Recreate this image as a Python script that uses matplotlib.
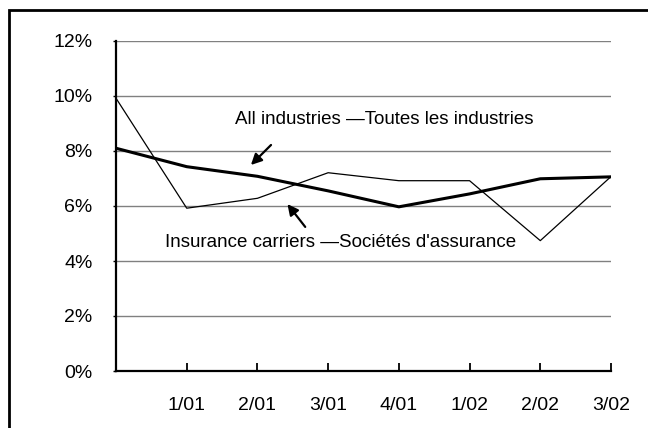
import matplotlib.pyplot as plt
from matplotlib.patches import Rectangle

plt.rcParams["font.family"] = ["Liberation Sans", "DejaVu Sans"]

# quarterly rates, first point is the unlabeled starting quarter
tick_labels = ["1/01", "2/01", "3/01", "4/01", "1/02", "2/02", "3/02"]
all_industries = [8.1, 7.43, 7.08, 6.55, 5.97, 6.44, 6.99, 7.06]
insurance = [9.92, 5.92, 6.28, 7.21, 6.92, 6.92, 4.74, 7.07]
y_ticks = [0, 2, 4, 6, 8, 10, 12]

x = list(range(len(all_industries)))

fig = plt.figure(figsize=(6.48, 4.28), dpi=100)
ax = fig.add_axes([116 / 648, 1 - 371 / 428, 495 / 648, 330 / 428])

# outer frame (runs off the right and bottom edges)
fig.patches.append(Rectangle((9 / 648, -0.05), 1.0, 1 - 10 / 428 + 0.05,
                             transform=fig.transFigure, fill=False,
                             edgecolor="black", linewidth=2))

for yv in y_ticks[1:]:
    ax.axhline(yv, color="#808080", linewidth=1, zorder=1)

ax.plot(x, insurance, color="black", linewidth=0.9, zorder=3)
ax.plot(x, all_industries, color="black", linewidth=2.2, zorder=4)

ax.set_xlim(0, 7)
ax.set_ylim(0, 12)
ax.set_yticks(y_ticks)
ax.set_yticklabels([f"{v}%" for v in y_ticks])
ax.set_xticks(range(1, 8))
ax.set_xticklabels(tick_labels)

ax.tick_params(axis="x", direction="in", length=6, width=1.3, pad=19, labelsize=14)
ax.tick_params(axis="y", direction="out", length=2, width=1, pad=15, labelsize=14)

for side in ["top", "right"]:
    ax.spines[side].set_visible(False)
for side in ["left", "bottom"]:
    ax.spines[side].set_linewidth(1.6)

ax.annotate("", xy=(1.88, 7.42), xytext=(2.22, 8.29),
            arrowprops=dict(arrowstyle="-|>", color="black", lw=1.6, mutation_scale=16))
ax.text(3.8, 9.13, "All industries \u2014Toutes les industries",
        ha="center", va="center", fontsize=13.5)

ax.annotate("", xy=(2.40, 6.15), xytext=(2.70, 5.16),
            arrowprops=dict(arrowstyle="-|>", color="black", lw=1.6, mutation_scale=16))
ax.text(3.18, 4.69, "Insurance carriers \u2014Soci\u00e9t\u00e9s d'assurance",
        ha="center", va="center", fontsize=13.5)

fig.savefig("out.png", dpi=100)
